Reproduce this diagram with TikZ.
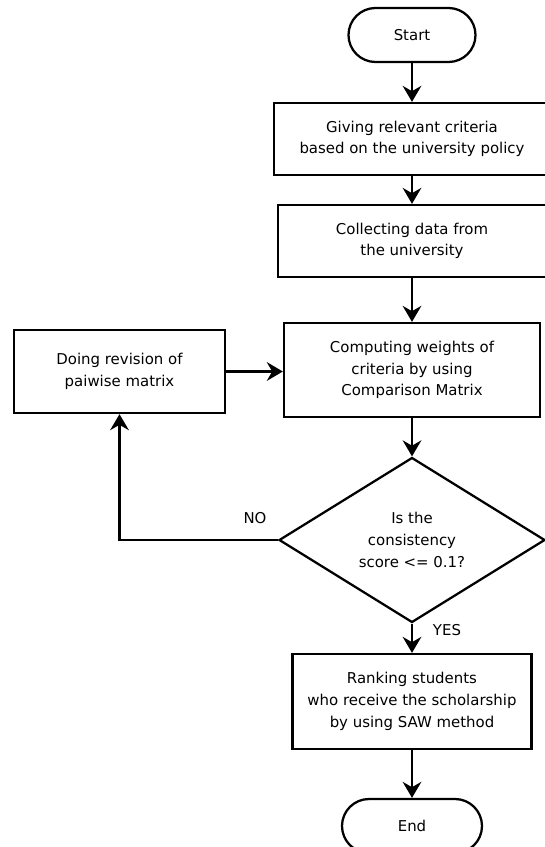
\documentclass[tikz,border=0pt]{standalone}
\usepackage{fontspec}
\setmainfont{DejaVu Sans}
\usetikzlibrary{shapes.geometric,arrows.meta}

\begin{document}
\begin{tikzpicture}[x=0.75pt,y=0.75pt,yscale=-1,xscale=1,
  every node/.style={font=\fontsize{11.2}{16.3}\selectfont},
  term/.style={draw,line width=1.7pt,rounded corners=20.25pt,minimum height=40.5pt,inner sep=0pt},
  proc/.style={draw,line width=1.7pt,rectangle,align=center,inner sep=0pt},
  decide/.style={draw,line width=1.7pt,diamond,align=center,inner sep=0pt,minimum width=199.5pt,minimum height=123.75pt},
  conn/.style={line width=1.8pt,-{Stealth[length=12pt,width=14pt,inset=4pt]}}]
\useasboundingbox (0,0) rectangle (544,847);

% Terminal Nodes
\node [term,minimum width=95.25pt] (start) at (412,35) {Start};
\node [term,minimum width=105pt] (end) at (412,826) {End};

% Process Nodes
\node [proc,minimum width=207pt,minimum height=54pt] (crit) at (412,139) {Giving relevant criteria\\based on the university policy};
\node [proc,minimum width=201pt,minimum height=54pt] (data) at (412,241) {Collecting data from\\the university};
\node [proc,minimum width=192pt,minimum height=70.5pt] (weight) at (412,370) {Computing weights of\\criteria by using\\Comparison Matrix};
\node [proc,minimum width=158.25pt,minimum height=62.25pt] (revise) at (119.5,371.5) {Doing revision of\\paiwise matrix};
\node [proc,minimum width=179.25pt,minimum height=71.25pt] (rank) at (412,701.5) {Ranking students\\who receive the scholarship\\by using SAW method};

% Decision Node
\node [decide] (check) at (412,540) {Is the\\consistency\\score <= 0.1?};

% Text Node
\node (no) at (255,518) {NO};
% Text Node
\node (yes) at (447,630) {YES};

%Straight Lines
\draw [conn] (start) -- (crit);
\draw [conn] (crit) -- (data);
\draw [conn] (data) -- (weight);
\draw [conn] (weight) -- (check);
\draw [conn] (check) -- (rank);
\draw [conn] (rank) -- (end);
\draw [conn] (check.west) -- (check.west -| revise.south) -- (revise.south);
\draw [conn] (revise.east) -- (revise.east -| weight.west);

\end{tikzpicture}
\end{document}
